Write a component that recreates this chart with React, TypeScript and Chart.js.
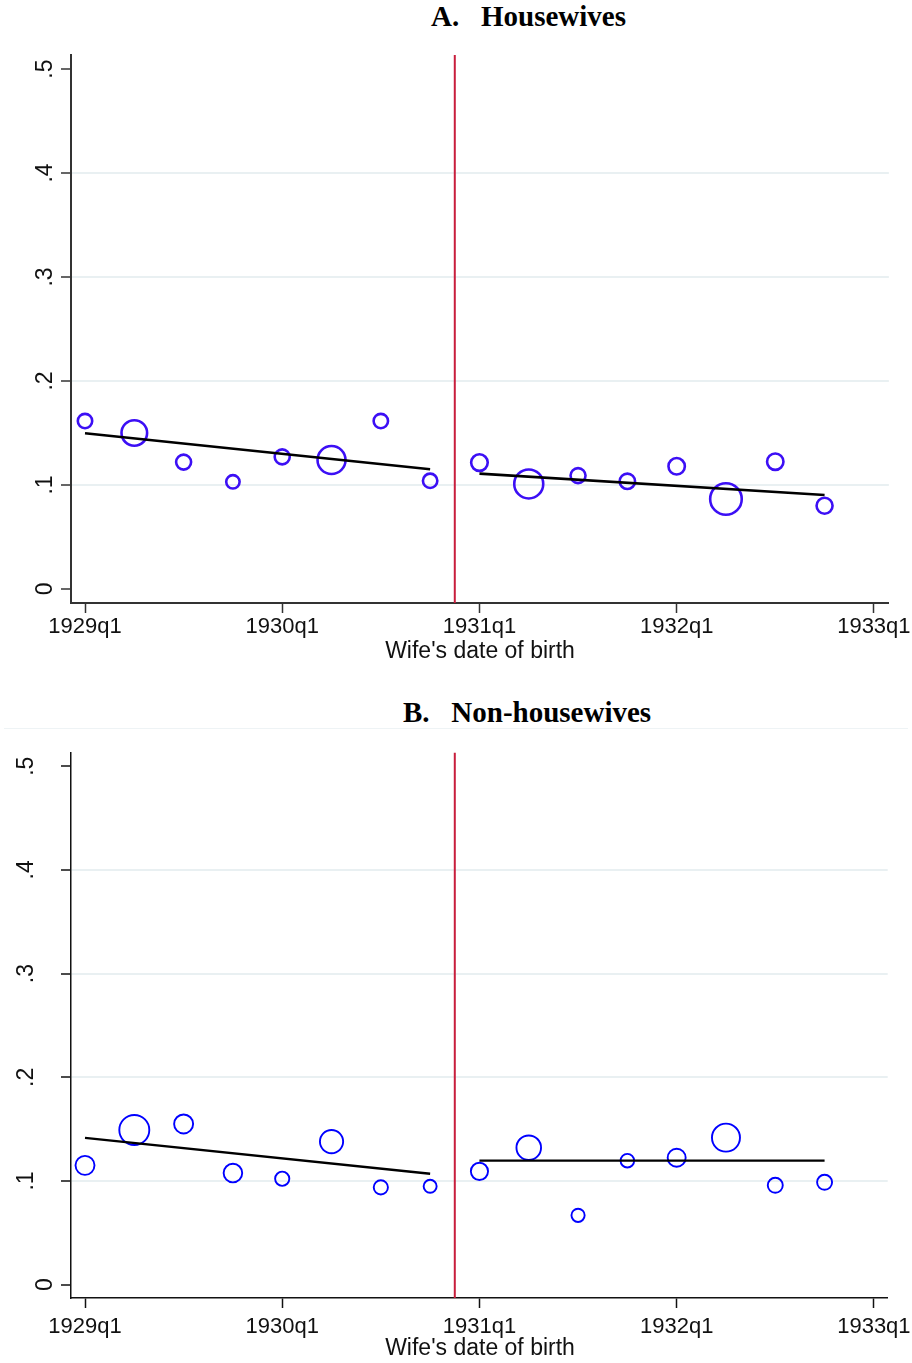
import React, { useEffect, useRef } from 'react';
import { Chart, registerables } from 'chart.js';

Chart.register(...registerables);

// ---------- data ----------
const quarters = [0, 1, 2, 3, 4, 5, 6, 7, 8, 9, 10, 11, 12, 13, 14, 15];
const xTickValues = [0, 4, 8, 12, 16];
const xTickLabels = ['1929q1', '1930q1', '1931q1', '1932q1', '1933q1'];
const yTickValues = [0, 0.1, 0.2, 0.3, 0.4, 0.5];
const yTickLabels = ['0', '.1', '.2', '.3', '.4', '.5'];
const cutoffQuarter = 7.5;

const housewivesShare = [0.1615, 0.150, 0.122, 0.103, 0.127, 0.124, 0.1615, 0.104, 0.1215, 0.101, 0.109, 0.1035, 0.118, 0.0865, 0.1224, 0.080];
const housewivesSize = [7.2, 12.8, 7.5, 6.7, 7.5, 14, 7.2, 7.2, 8.3, 14.5, 7.5, 7.7, 8.2, 15.8, 8.2, 8];
const nonHousewivesShare = [0.1151, 0.1492, 0.155, 0.1077, 0.1022, 0.138, 0.0939, 0.0949, 0.1093, 0.1321, 0.0669, 0.1196, 0.1225, 0.1418, 0.0959, 0.0988];
const nonHousewivesSize = [9.5, 15, 9.5, 9.3, 7.1, 11.6, 7.1, 6.5, 8.6, 12.3, 6.6, 6.8, 9, 14, 7.5, 7.5];

const fitBeforeX = [0, 7];
const fitAfterX = [8, 15];
const housewivesFitBefore = [0.1497, 0.1151];
const housewivesFitAfter = [0.1109, 0.0904];
const nonHousewivesFitBefore = [0.1415, 0.107];
const nonHousewivesFitAfter = [0.1196, 0.1196];

const SANS = '"Liberation Sans", Arial, sans-serif';
const SERIF = '"Liberation Serif", "Times New Roman", serif';

const yLabelPlugin = {
  id: 'yLabels',
  afterDraw(chart: any, _args: any, opts: any) {
    const s = chart.scales.y;
    const ctx = chart.ctx;
    ctx.save();
    ctx.font = `${opts.size}px ${SANS}`;
    ctx.fillStyle = opts.color;
    ctx.textAlign = 'center';
    ctx.textBaseline = 'alphabetic';
    yTickValues.forEach((v, i) => {
      const label = yTickLabels[i];
      const py = s.getPixelForValue(v);
      const bx = label === '0' ? opts.zeroBaseline : opts.baseline;
      ctx.save();
      ctx.translate(bx, py);
      ctx.rotate(-Math.PI / 2);
      ctx.fillText(label, 0, 0);
      ctx.restore();
    });
    ctx.restore();
  },
};

type PanelProps = {
  top: number;
  height: number;
  padTop: number;
  padRight: number;
  xHeight: number;
  yMin: number;
  yMax: number;
  xMin: number;
  xMax: number;
  share: number[];
  size: number[];
  fitBefore: number[];
  fitAfter: number[];
  circleColor: string;
  circleWidth: number;
  fitWidth: number;
  axisColor: string;
  axisWidth: number;
  tickLineHeight: number;
  labelBaseline: number;
  zeroBaseline: number;
};

function Panel(p: PanelProps) {
  const ref = useRef<HTMLCanvasElement | null>(null);
  useEffect(() => {
    if (!ref.current) return;
    const chart = new Chart(ref.current, {
      type: 'bubble',
      data: {
        datasets: [
          {
            type: 'line',
            data: fitBeforeX.map((x, i) => ({ x, y: p.fitBefore[i] })),
            borderColor: '#000',
            borderWidth: p.fitWidth,
            pointRadius: 0,
            order: 1,
          } as any,
          {
            type: 'line',
            data: fitAfterX.map((x, i) => ({ x, y: p.fitAfter[i] })),
            borderColor: '#000',
            borderWidth: p.fitWidth,
            pointRadius: 0,
            order: 1,
          } as any,
          {
            type: 'bubble',
            data: quarters.map((q, i) => ({ x: q, y: p.share[i], r: p.size[i] })),
            borderColor: p.circleColor,
            backgroundColor: 'rgba(0,0,0,0)',
            borderWidth: p.circleWidth,
            order: 2,
          } as any,
          {
            type: 'line',
            data: [
              { x: cutoffQuarter, y: p.yMin },
              { x: cutoffQuarter, y: p.yMax },
            ],
            borderColor: '#c81e3c',
            borderWidth: 2,
            pointRadius: 0,
            order: 3,
          } as any,
        ],
      },
      options: {
        animation: false,
        responsive: false,
        maintainAspectRatio: false,
        events: [],
        layout: { padding: { top: p.padTop, right: p.padRight, left: 0, bottom: 0 } },
        plugins: {
          legend: { display: false },
          tooltip: { enabled: false },
          yLabels: { size: 23, color: '#111', baseline: p.labelBaseline, zeroBaseline: p.zeroBaseline },
        } as any,
        scales: {
          x: {
            type: 'linear',
            min: p.xMin,
            max: p.xMax,
            afterBuildTicks: (s: any) => {
              s.ticks = xTickValues.map((v) => ({ value: v }));
            },
            afterFit: (s: any) => {
              s.height = p.xHeight;
            },
            grid: {
              display: true,
              drawOnChartArea: false,
              drawTicks: true,
              tickLength: 10,
              tickColor: p.axisColor,
              tickWidth: 1.5,
            },
            border: { display: true, color: p.axisColor, width: p.axisWidth },
            ticks: {
              padding: 1,
              color: '#111',
              font: { size: 22, family: SANS, lineHeight: p.tickLineHeight },
              maxRotation: 0,
              minRotation: 0,
              autoSkip: false,
              callback: (_v: any, i: number) => xTickLabels[i],
            },
          },
          y: {
            type: 'linear',
            min: p.yMin,
            max: p.yMax,
            afterBuildTicks: (s: any) => {
              s.ticks = yTickValues.map((v) => ({ value: v }));
            },
            afterFit: (s: any) => {
              s.width = 71;
            },
            grid: {
              display: true,
              drawOnChartArea: true,
              drawTicks: true,
              tickLength: 10,
              lineWidth: 2,
              color: (c: any) =>
                c.tick && c.tick.value > 0.05 && c.tick.value < 0.45 ? '#e9f0f2' : 'rgba(0,0,0,0)',
              tickColor: p.axisColor,
              tickWidth: 1.5,
            },
            border: { display: true, color: p.axisColor, width: p.axisWidth },
            ticks: { display: false },
          },
        },
      },
      plugins: [yLabelPlugin as any],
    });
    return () => chart.destroy();
  }, []);
  return (
    <canvas
      ref={ref}
      width={912}
      height={p.height}
      style={{ position: 'absolute', left: 0, top: p.top, width: 912, height: p.height }}
    />
  );
}

const titleStyle: React.CSSProperties = {
  position: 'absolute',
  fontFamily: SERIF,
  fontWeight: 'bold',
  fontSize: 29,
  lineHeight: '29px',
  whiteSpace: 'pre',
  color: '#000',
};

const axisTitleStyle: React.CSSProperties = {
  position: 'absolute',
  left: 480,
  transform: 'translateX(-50%)',
  fontFamily: SANS,
  fontSize: 23,
  lineHeight: '23px',
  whiteSpace: 'nowrap',
  color: '#111',
};

export default function App() {
  return (
    <div style={{ position: 'absolute', left: 0, top: 0, width: 912, height: 1363, background: '#fff', overflow: 'hidden' }}>
      <div style={{ ...titleStyle, left: 431, top: 2 }}>{'A.   Housewives'}</div>
      <Panel
        top={0}
        height={680}
        padTop={55}
        padRight={23}
        xHeight={77}
        yMin={-0.0135}
        yMax={0.5135}
        xMin={-0.284}
        xMax={16.304}
        share={housewivesShare}
        size={housewivesSize}
        fitBefore={housewivesFitBefore}
        fitAfter={housewivesFitAfter}
        circleColor="#3c0ff5"
        circleWidth={2.6}
        fitWidth={2.6}
        axisColor="#333"
        axisWidth={2}
        tickLineHeight={1.2}
        labelBaseline={52}
        zeroBaseline={52}
      />
      <div style={{ ...axisTitleStyle, top: 639 }}>{"Wife's date of birth"}</div>

      <div style={{ ...titleStyle, left: 403, top: 698 }}>{'B.   Non-housewives'}</div>
      <div style={{ position: 'absolute', left: 4, top: 728, width: 904, height: 1, background: '#eef3f5' }} />
      <Panel
        top={680}
        height={683}
        padTop={72.5}
        padRight={24}
        xHeight={65}
        yMin={-0.0128}
        yMax={0.5132}
        xMin={-0.284}
        xMax={16.28}
        share={nonHousewivesShare}
        size={nonHousewivesSize}
        fitBefore={nonHousewivesFitBefore}
        fitAfter={nonHousewivesFitAfter}
        circleColor="#0000ff"
        circleWidth={1.9}
        fitWidth={2.3}
        axisColor="#111"
        axisWidth={1.5}
        tickLineHeight={1.65}
        labelBaseline={33}
        zeroBaseline={52}
      />
      <div style={{ ...axisTitleStyle, top: 1336 }}>{"Wife's date of birth"}</div>
    </div>
  );
}
